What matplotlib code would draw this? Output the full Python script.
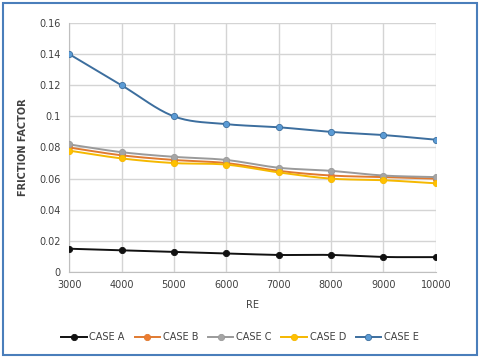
import matplotlib
matplotlib.use("Agg")
import matplotlib.pyplot as plt
from matplotlib.patches import Rectangle
import numpy as np

# data
re_values = [3000, 4000, 5000, 6000, 7000, 8000, 9000, 10000]
case_a = [0.015, 0.014, 0.013, 0.012, 0.011, 0.011, 0.0097, 0.0096]
case_b = [0.080, 0.075, 0.072, 0.070, 0.065, 0.062, 0.061, 0.060]
case_c = [0.082, 0.077, 0.074, 0.072, 0.067, 0.065, 0.062, 0.061]
case_d = [0.078, 0.073, 0.070, 0.069, 0.064, 0.060, 0.059, 0.057]
case_e = [0.140, 0.120, 0.100, 0.095, 0.093, 0.090, 0.088, 0.085]

labels = ["CASE A", "CASE B", "CASE C", "CASE D", "CASE E"]
series = [case_a, case_b, case_c, case_d, case_e]
line_colors = ["#111111", "#E07A30", "#9A9A9A", "#F5B800", "#3C6E9E"]
marker_colors = ["#111111", "#ED7D31", "#A5A5A5", "#FFC000", "#5B9BD5"]


def smooth(x, y, n=20):
    # Excel-like smoothed line (Catmull-Rom through the data points)
    x = np.asarray(x, float)
    y = np.asarray(y, float)
    px = np.concatenate([[2 * x[0] - x[1]], x, [2 * x[-1] - x[-2]]])
    py = np.concatenate([[2 * y[0] - y[1]], y, [2 * y[-1] - y[-2]]])
    xs, ys = [], []
    t = np.linspace(0, 1, n)
    for i in range(1, len(px) - 2):
        for arr, out in ((px, xs), (py, ys)):
            p0, p1, p2, p3 = arr[i - 1], arr[i], arr[i + 1], arr[i + 2]
            out.extend(0.5 * ((2 * p1) + (-p0 + p2) * t
                              + (2 * p0 - 5 * p1 + 4 * p2 - p3) * t ** 2
                              + (-p0 + 3 * p1 - 3 * p2 + p3) * t ** 3))
    return xs, ys


fig = plt.figure(figsize=(4.8, 3.58), dpi=100)
ax = fig.add_axes([0.144, 0.24, 0.764, 0.696])

for vals, lab, lc, mc in zip(series, labels, line_colors, marker_colors):
    sx, sy = smooth(re_values, vals)
    ax.plot(sx, sy, color=lc, lw=1.4, zorder=3)
    ax.plot(re_values, vals, ls="none", marker="o", ms=4.5,
            mfc=mc, mec=lc, mew=0.6, zorder=4)
    # proxy for legend
    ax.plot([], [], color=lc, lw=1.4, marker="o", ms=4.5, mfc=mc, mec=lc,
            mew=0.6, label=lab)

ax.set_xlim(3000, 10000)
ax.set_ylim(0, 0.16)
ax.set_xticks(re_values)
ax.set_xticklabels([str(v) for v in re_values])
ax.set_yticks([0, 0.02, 0.04, 0.06, 0.08, 0.1, 0.12, 0.14, 0.16])
ax.set_yticklabels(["0", "0.02", "0.04", "0.06", "0.08", "0.1", "0.12", "0.14", "0.16"])
ax.grid(True, color="#D4D4D4", lw=1.0, zorder=0)
for s in ["top", "right"]:
    ax.spines[s].set_visible(False)
for s in ["left", "bottom"]:
    ax.spines[s].set_color("#BFBFBF")
ax.tick_params(length=0, labelsize=7, colors="#404040", pad=6)
ax.set_xlabel("RE", fontsize=7, color="#404040", labelpad=7)
ax.set_ylabel("FRICTION FACTOR", fontsize=7, color="#404040", labelpad=8,
              fontweight="bold")

fig.legend(loc="center", bbox_to_anchor=(0.5, 0.058), ncol=5, frameon=False,
           fontsize=7, handlelength=2.6, columnspacing=1.0, handletextpad=0.3,
           labelcolor="#404040")

# blue frame around the picture
fig.patches.append(Rectangle((0.006, 0.008), 0.988, 0.984, transform=fig.transFigure,
                             fill=False, edgecolor="#4A7EBB", lw=1.5))

fig.savefig("out.png", dpi=100)
